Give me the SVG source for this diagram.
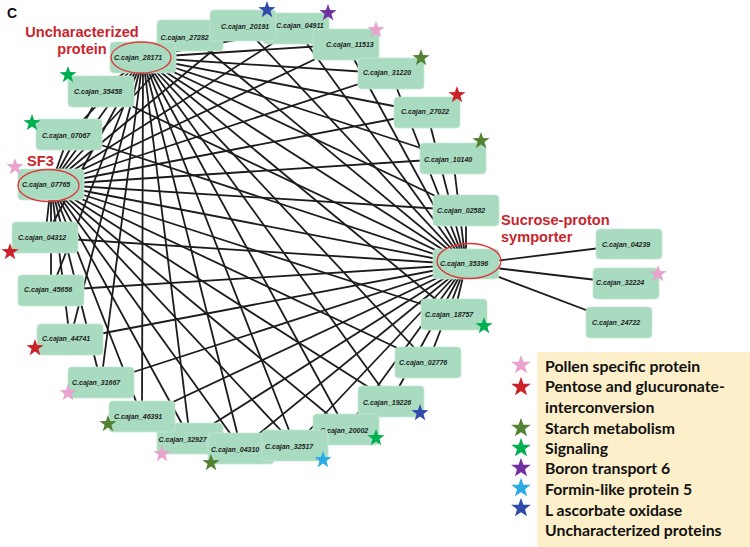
<svg xmlns="http://www.w3.org/2000/svg" xmlns:xlink="http://www.w3.org/1999/xlink" width="750" height="547" viewBox="0 0 750 547">
<style>
.e{stroke:#1c1c1c;stroke-width:1.8;fill:none}
.b{fill:#a8dbbf;stroke:#c4e7d3;stroke-width:0.8}
.t{font-family:"Liberation Sans",Arial,sans-serif;font-size:7px;font-weight:bold;font-style:italic;fill:#1e1e1e}
.h{fill:none;stroke:#e2353a;stroke-width:1.3}
.r{font-family:"Liberation Sans",Arial,sans-serif;font-size:14.6px;font-weight:bold;fill:#c8252c}
.l{font-family:Lato,"Open Sans",sans-serif;font-size:15.8px;font-weight:bold;fill:#111}
.pk{fill:#e8a3cf}.rd{fill:#cc2229}.dg{fill:#548235}.gn{fill:#00b050}.pu{fill:#7030a0}.lb{fill:#2aaae2}.bl{fill:#2f4aab}
</style>
<defs>
<polygon id="star" points="0,-9 2.12,-2.91 8.56,-2.78 3.42,1.11 5.29,7.28 0,3.6 -5.29,7.28 -3.42,1.11 -8.56,-2.78 -2.12,-2.91"/>
</defs>
<rect width="750" height="547" fill="#fff"/>
<text x="7" y="18" font-family="Liberation Sans,Arial,sans-serif" font-size="14" font-weight="bold" fill="#111">C</text>
<g id="connectors">
<line class="e" x1="143" y1="57.5" x2="190" y2="35.5"/>
<line class="e" x1="143" y1="57.5" x2="243" y2="25.5"/>
<line class="e" x1="143" y1="57.5" x2="296" y2="28.5"/>
<line class="e" x1="143" y1="57.5" x2="346" y2="44.5"/>
<line class="e" x1="143" y1="57.5" x2="391" y2="73.5"/>
<line class="e" x1="143" y1="57.5" x2="427" y2="112.5"/>
<line class="e" x1="143" y1="57.5" x2="453" y2="158.5"/>
<line class="e" x1="143" y1="57.5" x2="466" y2="210.5"/>
<line class="e" x1="143" y1="57.5" x2="454" y2="314.5"/>
<line class="e" x1="143" y1="57.5" x2="428" y2="362.5"/>
<line class="e" x1="143" y1="57.5" x2="391" y2="401.5"/>
<line class="e" x1="143" y1="57.5" x2="346" y2="429.5"/>
<line class="e" x1="143" y1="57.5" x2="295" y2="445.5"/>
<line class="e" x1="143" y1="57.5" x2="241" y2="448.5"/>
<line class="e" x1="143" y1="57.5" x2="190" y2="438.5"/>
<line class="e" x1="143" y1="57.5" x2="142" y2="416.5"/>
<line class="e" x1="143" y1="57.5" x2="101" y2="382.5"/>
<line class="e" x1="143" y1="57.5" x2="70" y2="339.5"/>
<line class="e" x1="143" y1="57.5" x2="51" y2="290.5"/>
<line class="e" x1="143" y1="57.5" x2="45" y2="237.5"/>
<line class="e" x1="143" y1="57.5" x2="69" y2="134.5"/>
<line class="e" x1="143" y1="57.5" x2="101" y2="91.5"/>
<line class="e" x1="143" y1="57.5" x2="51" y2="184.5"/>
<line class="e" x1="143" y1="57.5" x2="466" y2="264.5"/>
<line class="e" x1="51" y1="184.5" x2="190" y2="35.5"/>
<line class="e" x1="51" y1="184.5" x2="243" y2="25.5"/>
<line class="e" x1="51" y1="184.5" x2="296" y2="28.5"/>
<line class="e" x1="51" y1="184.5" x2="346" y2="44.5"/>
<line class="e" x1="51" y1="184.5" x2="391" y2="73.5"/>
<line class="e" x1="51" y1="184.5" x2="427" y2="112.5"/>
<line class="e" x1="51" y1="184.5" x2="453" y2="158.5"/>
<line class="e" x1="51" y1="184.5" x2="466" y2="210.5"/>
<line class="e" x1="51" y1="184.5" x2="454" y2="314.5"/>
<line class="e" x1="51" y1="184.5" x2="428" y2="362.5"/>
<line class="e" x1="51" y1="184.5" x2="391" y2="401.5"/>
<line class="e" x1="51" y1="184.5" x2="346" y2="429.5"/>
<line class="e" x1="51" y1="184.5" x2="295" y2="445.5"/>
<line class="e" x1="51" y1="184.5" x2="241" y2="448.5"/>
<line class="e" x1="51" y1="184.5" x2="190" y2="438.5"/>
<line class="e" x1="51" y1="184.5" x2="142" y2="416.5"/>
<line class="e" x1="51" y1="184.5" x2="101" y2="382.5"/>
<line class="e" x1="51" y1="184.5" x2="70" y2="339.5"/>
<line class="e" x1="51" y1="184.5" x2="51" y2="290.5"/>
<line class="e" x1="51" y1="184.5" x2="45" y2="237.5"/>
<line class="e" x1="51" y1="184.5" x2="69" y2="134.5"/>
<line class="e" x1="51" y1="184.5" x2="101" y2="91.5"/>
<line class="e" x1="51" y1="184.5" x2="466" y2="264.5"/>
<line class="e" x1="466" y1="264.5" x2="190" y2="35.5"/>
<line class="e" x1="466" y1="264.5" x2="243" y2="25.5"/>
<line class="e" x1="466" y1="264.5" x2="296" y2="28.5"/>
<line class="e" x1="466" y1="264.5" x2="346" y2="44.5"/>
<line class="e" x1="466" y1="264.5" x2="391" y2="73.5"/>
<line class="e" x1="466" y1="264.5" x2="427" y2="112.5"/>
<line class="e" x1="466" y1="264.5" x2="453" y2="158.5"/>
<line class="e" x1="466" y1="264.5" x2="466" y2="210.5"/>
<line class="e" x1="466" y1="264.5" x2="454" y2="314.5"/>
<line class="e" x1="466" y1="264.5" x2="428" y2="362.5"/>
<line class="e" x1="466" y1="264.5" x2="391" y2="401.5"/>
<line class="e" x1="466" y1="264.5" x2="346" y2="429.5"/>
<line class="e" x1="466" y1="264.5" x2="295" y2="445.5"/>
<line class="e" x1="466" y1="264.5" x2="241" y2="448.5"/>
<line class="e" x1="466" y1="264.5" x2="190" y2="438.5"/>
<line class="e" x1="466" y1="264.5" x2="142" y2="416.5"/>
<line class="e" x1="466" y1="264.5" x2="101" y2="382.5"/>
<line class="e" x1="466" y1="264.5" x2="70" y2="339.5"/>
<line class="e" x1="466" y1="264.5" x2="51" y2="290.5"/>
<line class="e" x1="466" y1="264.5" x2="45" y2="237.5"/>
<line class="e" x1="466" y1="264.5" x2="69" y2="134.5"/>
<line class="e" x1="466" y1="264.5" x2="101" y2="91.5"/>
<line class="e" x1="466" y1="264.5" x2="629" y2="244.5"/>
<line class="e" x1="466" y1="264.5" x2="626" y2="283.5"/>
<line class="e" x1="466" y1="264.5" x2="619" y2="322.5"/>
</g>
<g id="n27282"><rect class="b" x="157" y="20" width="66" height="31" rx="4"/><text class="t" x="160.5" y="39.5">C.cajan_27282</text></g>
<g id="n04911"><rect class="b" x="263" y="13" width="66" height="31" rx="4"/><text class="t" x="276" y="27.5">C.cajan_04911</text></g>
<g id="n20191"><rect class="b" x="210" y="10" width="66" height="31" rx="4"/><text class="t" x="221" y="28.5">C.cajan_20191</text></g>
<g id="n11513"><rect class="b" x="313" y="29" width="66" height="31" rx="4"/><text class="t" x="326" y="46.5">C.cajan_11513</text></g>
<g id="n31220"><rect class="b" x="358" y="58" width="66" height="31" rx="4"/><text class="t" x="363" y="74.5">C.cajan_31220</text></g>
<g id="n27022"><rect class="b" x="394" y="97" width="66" height="31" rx="4"/><text class="t" x="401" y="113.5">C.cajan_27022</text></g>
<g id="n10140"><rect class="b" x="420" y="143" width="66" height="31" rx="4"/><text class="t" x="424" y="161.5">C.cajan_10140</text></g>
<g id="n02582"><rect class="b" x="433" y="195" width="66" height="31" rx="4"/><text class="t" x="437" y="212.5">C.cajan_02582</text></g>
<g id="n35396"><rect class="b" x="433" y="249" width="66" height="30" rx="4"/><text class="t" x="440" y="265.5">C.cajan_35396</text><ellipse class="h" cx="469" cy="261" rx="32" ry="17.5"/></g>
<g id="n18757"><rect class="b" x="421" y="299" width="66" height="31" rx="4"/><text class="t" x="425" y="316.5">C.cajan_18757</text></g>
<g id="n02776"><rect class="b" x="395" y="347" width="66" height="31" rx="4"/><text class="t" x="399" y="364.5">C.cajan_02776</text></g>
<g id="n19226"><rect class="b" x="358" y="386" width="66" height="31" rx="4"/><text class="t" x="363" y="404.5">C.cajan_19226</text></g>
<g id="n20002"><rect class="b" x="313" y="414" width="66" height="31" rx="4"/><text class="t" x="320" y="432.5">C.cajan_20002</text></g>
<g id="n32927"><rect class="b" x="157" y="423" width="66" height="31" rx="4"/><text class="t" x="158.5" y="441.5">C.cajan_32927</text></g>
<g id="n04310"><rect class="b" x="208" y="433" width="66" height="31" rx="4"/><text class="t" x="211" y="451.5">C.cajan_04310</text></g>
<g id="n32517"><rect class="b" x="262" y="430" width="66" height="31" rx="4"/><text class="t" x="265" y="448.5">C.cajan_32517</text></g>
<g id="n46391"><rect class="b" x="109" y="401" width="66" height="31" rx="4"/><text class="t" x="114" y="418.5">C.cajan_46391</text></g>
<g id="n31667"><rect class="b" x="68" y="367" width="66" height="31" rx="4"/><text class="t" x="72" y="384.5">C.cajan_31667</text></g>
<g id="n44741"><rect class="b" x="37" y="324" width="66" height="31" rx="4"/><text class="t" x="42" y="340.5">C.cajan_44741</text></g>
<g id="n45656"><rect class="b" x="18" y="275" width="66" height="31" rx="4"/><text class="t" x="24" y="291.5">C.cajan_45656</text></g>
<g id="n04312"><rect class="b" x="12" y="222" width="66" height="31" rx="4"/><text class="t" x="18" y="239.5">C.cajan_04312</text></g>
<g id="n07765"><rect class="b" x="18" y="169" width="66" height="31" rx="4"/><text class="t" x="22" y="186.5">C.cajan_07765</text><ellipse class="h" cx="48.5" cy="185.5" rx="30.5" ry="16"/></g>
<g id="n07067"><rect class="b" x="36" y="119" width="66" height="31" rx="4"/><text class="t" x="42" y="137.5">C.cajan_07067</text></g>
<g id="n35458"><rect class="b" x="68" y="76" width="66" height="31" rx="4"/><text class="t" x="74" y="93.5">C.cajan_35458</text></g>
<g id="n28171"><rect class="b" x="110" y="42" width="66" height="31" rx="4"/><text class="t" x="114" y="59.5">C.cajan_28171</text><ellipse class="h" cx="141" cy="57.5" rx="30" ry="15.5"/></g>
<g id="n04239"><rect class="b" x="596" y="229" width="66" height="30" rx="4"/><text class="t" x="602" y="246.5">C.cajan_04239</text></g>
<g id="n32224"><rect class="b" x="593" y="268" width="66" height="31" rx="4"/><text class="t" x="596" y="284.5">C.cajan_32224</text></g>
<g id="n24722"><rect class="b" x="586" y="307" width="66" height="31" rx="4"/><text class="t" x="592" y="324.5">C.cajan_24722</text></g>
<g id="stars">
<use href="#star" class="gn" x="68" y="75"/>
<use href="#star" class="gn" x="32" y="123"/>
<use href="#star" class="pk" x="15" y="167"/>
<use href="#star" class="rd" x="10" y="252"/>
<use href="#star" class="rd" x="35" y="348"/>
<use href="#star" class="pk" x="68" y="393"/>
<use href="#star" class="dg" x="108" y="424"/>
<use href="#star" class="pk" x="162" y="454"/>
<use href="#star" class="dg" x="211" y="463"/>
<use href="#star" class="lb" x="323" y="460"/>
<use href="#star" class="gn" x="376" y="438"/>
<use href="#star" class="bl" x="420" y="413"/>
<use href="#star" class="gn" x="484" y="326"/>
<use href="#star" class="pk" x="658" y="274"/>
<use href="#star" class="dg" x="481" y="141"/>
<use href="#star" class="rd" x="457" y="95"/>
<use href="#star" class="dg" x="421" y="58"/>
<use href="#star" class="pk" x="376" y="30"/>
<use href="#star" class="pu" x="328" y="13"/>
<use href="#star" class="bl" x="267" y="10"/>
</g>
<g id="labels">
<text class="r" x="82" y="37" text-anchor="middle">Uncharacterized</text>
<text class="r" x="82" y="54" text-anchor="middle">protein</text>
<text class="r" x="27" y="166">SF3</text>
<text class="r" x="501" y="225">Sucrose-proton</text>
<text class="r" x="501" y="242">symporter</text>
</g>
<g id="legend">
<rect x="537" y="352" width="213" height="195" fill="#fcefc9"/>
<use href="#star" class="pk" transform="translate(521,365) scale(1.15)"/>
<use href="#star" class="rd" transform="translate(521,387) scale(1.15)"/>
<use href="#star" class="dg" transform="translate(521,428) scale(1.15)"/>
<use href="#star" class="gn" transform="translate(521,448) scale(1.15)"/>
<use href="#star" class="pu" transform="translate(521,468) scale(1.15)"/>
<use href="#star" class="lb" transform="translate(521,488) scale(1.15)"/>
<use href="#star" class="bl" transform="translate(521,508) scale(1.15)"/>
<text class="l" x="545" y="372">Pollen specific protein</text>
<text class="l" x="545" y="392">Pentose and glucuronate-</text>
<text class="l" x="545" y="413">interconversion</text>
<text class="l" x="545" y="434">Starch metabolism</text>
<text class="l" x="545" y="454">Signaling</text>
<text class="l" x="545" y="474">Boron transport 6</text>
<text class="l" x="545" y="495">Formin-like protein 5</text>
<text class="l" x="545" y="516">L ascorbate oxidase</text>
<text class="l" x="545" y="536">Uncharacterized proteins</text>
</g>
</svg>
